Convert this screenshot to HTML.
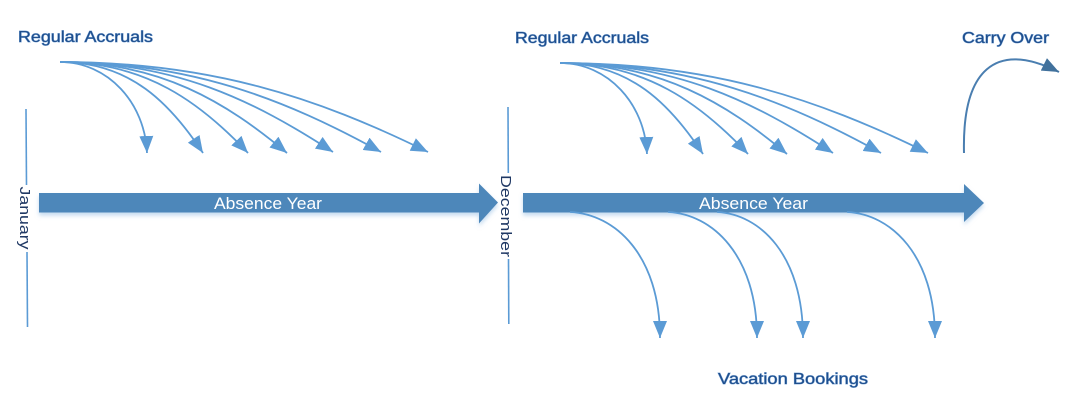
<!DOCTYPE html>
<html>
<head>
<meta charset="utf-8">
<style>
html,body{margin:0;padding:0;background:#fff;}
svg{display:block;}
.lbl{font-family:"Liberation Sans",sans-serif;font-size:16px;fill:#1F4E8C;stroke:#6F9DD2;stroke-width:0.8px;paint-order:stroke;}
.mon{font-family:"Liberation Sans",sans-serif;font-size:15px;fill:#1F3864;}
.ay{font-family:"Liberation Sans",sans-serif;font-size:17px;fill:#ffffff;}
</style>
</head>
<body>
<svg width="1091" height="416" viewBox="0 0 1091 416" xmlns="http://www.w3.org/2000/svg">
<defs>
  <marker id="ah" markerUnits="userSpaceOnUse" markerWidth="18" markerHeight="14" refX="17" refY="7" orient="auto">
    <path d="M0,0 L17,7 L0,14 z" fill="#5B9BD5"/>
  </marker>
  <marker id="ahd" markerUnits="userSpaceOnUse" markerWidth="18" markerHeight="14" refX="17" refY="7" orient="auto">
    <path d="M0,0 L17,7 L0,14 z" fill="#41719C"/>
  </marker>
  <filter id="sh" x="-5%" y="-30%" width="110%" height="180%">
    <feDropShadow dx="0" dy="3" stdDeviation="2" flood-color="#9DC3E6" flood-opacity="0.6"/>
  </filter>
  <g id="acc" fill="none" stroke="#5B9BD5" stroke-width="1.8" marker-end="url(#ah)">
    <path d="M0,0 C48,0 85,41 87,91"/>
    <path d="M0,0 C70,0 110,41 143,91"/>
    <path d="M0,0 C85,0 140,40 188,91"/>
    <path d="M0,0 C100,0 166,40 227,91"/>
    <path d="M0,0 C115,0 193,38 273,90"/>
    <path d="M0,0 C130,0 225,37 321,90"/>
    <path d="M0,0 C150,0 256,35 368,90"/>
  </g>
</defs>

<!-- Labels -->
<text class="lbl" x="18" y="42" textLength="135" lengthAdjust="spacingAndGlyphs">Regular Accruals</text>
<text class="lbl" x="515" y="43" textLength="134" lengthAdjust="spacingAndGlyphs">Regular Accruals</text>
<text class="lbl" x="962" y="43" textLength="87" lengthAdjust="spacingAndGlyphs">Carry Over</text>
<text class="lbl" x="718" y="384" textLength="150" lengthAdjust="spacingAndGlyphs">Vacation Bookings</text>

<!-- Accrual arrows -->
<use href="#acc" transform="translate(60,62)"/>
<use href="#acc" transform="translate(560,63)"/>

<!-- Month lines -->
<g stroke="#5B9BD5" stroke-width="1.6">
  <line x1="26" y1="109" x2="26.5" y2="185"/>
  <line x1="27" y1="252" x2="27.5" y2="327"/>
  <line x1="508" y1="107" x2="508.3" y2="173"/>
  <line x1="508.5" y1="259" x2="508.8" y2="324"/>
</g>
<text class="mon" transform="translate(20,218) rotate(90)" text-anchor="middle" textLength="63" lengthAdjust="spacingAndGlyphs">January</text>
<text class="mon" transform="translate(501,216) rotate(90)" text-anchor="middle" font-size="16" textLength="82" lengthAdjust="spacingAndGlyphs">December</text>

<!-- Big arrows -->
<g filter="url(#sh)">
  <polygon points="39,193 479,193 479,183.5 498,202.5 479,223.5 479,212.5 39,212.5" fill="#4E87BA"/>
  <polygon points="523,193 964,193 964,184 984,203 964,222 964,212.5 523,212.5" fill="#4E87BA"/>
</g>
<text class="ay" x="214" y="209" textLength="108" lengthAdjust="spacingAndGlyphs">Absence Year</text>
<text class="ay" x="699" y="209" textLength="109" lengthAdjust="spacingAndGlyphs">Absence Year</text>

<!-- Vacation bookings -->
<g fill="none" stroke="#5B9BD5" stroke-width="1.8" marker-end="url(#ah)">
  <path d="M570,212 C615,214 660,255 660,338"/>
  <path d="M668,212 C712,214 757,255 757,338"/>
  <path d="M717,212 C760,214 803,255 803,338"/>
  <path d="M847,212 C891,214 935,255 935,338"/>
</g>

<!-- Carry over -->
<path d="M964,153 C962,70 995,40 1059,72" fill="none" stroke="#4A7EB0" stroke-width="2" marker-end="url(#ahd)"/>
</svg>
</body>
</html>
